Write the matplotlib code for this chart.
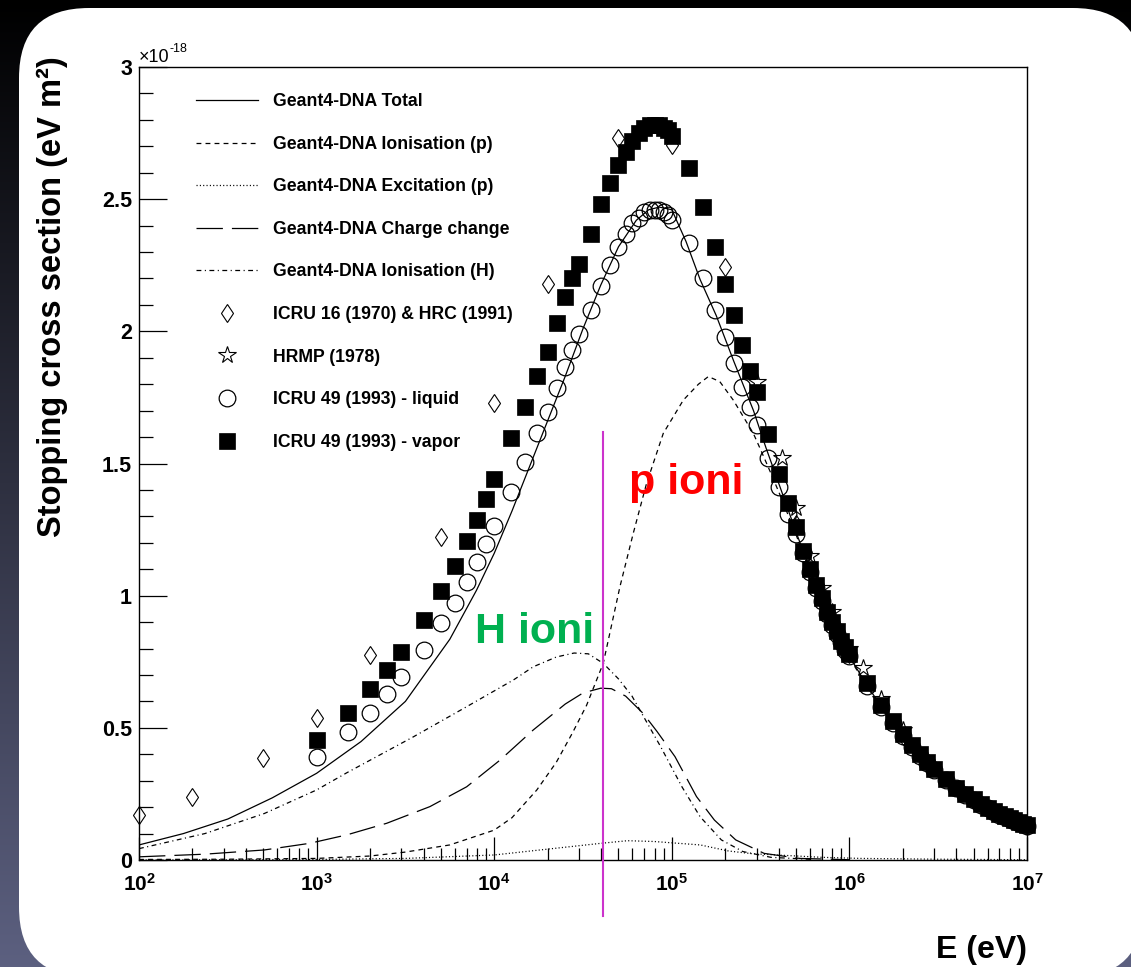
import numpy as np
import matplotlib
matplotlib.use('Agg')
import matplotlib.pyplot as plt
from matplotlib.patches import FancyBboxPatch
from matplotlib.ticker import MultipleLocator, FixedLocator, NullFormatter

plt.rcParams['font.family'] = ['Liberation Sans', 'DejaVu Sans']
plt.rcParams['mathtext.fontset'] = 'custom'
plt.rcParams['mathtext.rm'] = 'Liberation Sans:bold'
plt.rcParams['mathtext.bf'] = 'Liberation Sans:bold'
plt.rcParams['mathtext.it'] = 'Liberation Sans:bold'
plt.rcParams['lines.scale_dashes'] = False

# ---------------- data (y in units of 1e-18 eV m^2) ----------------
# Geant4-DNA model curves: log10(E/eV) and stopping cross section
total_logE = [2.00, 2.25, 2.50, 2.75, 3.00, 3.25, 3.50, 3.75, 3.90, 4.00, 4.10, 4.20, 4.30, 4.40,
              4.50, 4.60, 4.70, 4.80, 4.87, 4.93, 5.00, 5.08, 5.16, 5.25, 5.35, 5.46, 5.53, 5.61,
              5.70, 5.80, 5.90, 6.00, 6.10, 6.20, 6.30, 6.40, 6.50, 6.60, 6.70, 6.80, 6.90, 7.00]
total_y = [0.057, 0.100, 0.155, 0.235, 0.328, 0.448, 0.600, 0.835, 1.02, 1.16, 1.32, 1.49, 1.66, 1.83,
           2.01, 2.175, 2.32, 2.42, 2.46, 2.47, 2.46, 2.34, 2.195, 2.06, 1.885, 1.70, 1.56, 1.41,
           1.24, 1.06, 0.895, 0.77, 0.66, 0.56, 0.47, 0.395, 0.33, 0.27, 0.225, 0.19, 0.155, 0.128]

ionp_logE = [2.00, 2.50, 3.00, 3.30, 3.50, 3.75, 4.00, 4.10, 4.24, 4.35, 4.44, 4.52, 4.576, 4.614,
             4.708, 4.783, 4.858, 4.952, 5.065, 5.15, 5.206, 5.27, 5.346, 5.40, 5.459, 5.497, 5.56,
             5.61, 5.70, 5.80, 5.90, 6.00, 6.10, 6.20, 6.30, 6.40, 6.50, 6.60, 6.70, 6.80, 6.90, 7.00]
ionp_y = [0.002, 0.003, 0.006, 0.015, 0.030, 0.057, 0.113, 0.16, 0.265, 0.37, 0.48, 0.585, 0.68, 0.744,
          1.034, 1.236, 1.425, 1.614, 1.74, 1.80, 1.829, 1.81, 1.74, 1.68, 1.614, 1.557, 1.46,
          1.38, 1.23, 1.05, 0.885, 0.765, 0.655, 0.556, 0.467, 0.393, 0.328, 0.268, 0.224, 0.189, 0.154, 0.127]

excp_logE = [2.0, 3.0, 3.5, 4.0, 4.34, 4.60, 4.75, 4.90, 5.16, 5.32, 5.45, 5.62, 5.85, 6.06, 6.5, 7.0]
excp_y = [0.0, 0.002, 0.006, 0.019, 0.044, 0.063, 0.073, 0.070, 0.057, 0.034, 0.024, 0.018, 0.010,
          0.006, 0.003, 0.001]

cc_logE = [2.0, 2.37, 2.706, 2.96, 3.17, 3.395, 3.638, 3.845, 4.033, 4.22, 4.40, 4.50, 4.60, 4.66,
           4.74, 4.838, 4.917, 5.018, 5.139, 5.24, 5.36, 5.52, 5.72, 6.0]
cc_y = [0.012, 0.022, 0.038, 0.063, 0.095, 0.139, 0.202, 0.277, 0.378, 0.492, 0.59, 0.632, 0.65, 0.648,
        0.62, 0.555, 0.486, 0.391, 0.24, 0.151, 0.076, 0.025, 0.006, 0.001]

ionh_logE = [2.0, 2.371, 2.706, 3.0, 3.17, 3.545, 3.845, 4.108, 4.22, 4.35, 4.45, 4.53, 4.614, 4.70,
             4.776, 4.86, 4.937, 5.057, 5.159, 5.279, 5.40, 5.559, 5.8]
ionh_y = [0.043, 0.10, 0.176, 0.265, 0.33, 0.466, 0.58, 0.681, 0.731, 0.768, 0.783, 0.78, 0.744, 0.685,
          0.62, 0.52, 0.429, 0.277, 0.164, 0.076, 0.032, 0.01, 0.002]

# Reference data (E in keV)
icru16_E = [0.1, 0.2, 0.5, 1, 2, 5, 10, 20, 50, 100, 200, 500, 1000, 2000, 5000, 10000]
icru16_y = [0.17, 0.24, 0.385, 0.536, 0.776, 1.223, 1.73, 2.18, 2.73, 2.705, 2.245, 1.27, 0.78,
            0.47, 0.225, 0.13]

hrmp_E = [300, 415, 500, 600, 700, 800, 1000, 1200, 1500, 2000]
hrmp_y = [1.81, 1.52, 1.33, 1.15, 1.03, 0.94, 0.80, 0.726, 0.61, 0.49]

icru49_E = [1, 1.5, 2, 2.5, 3, 4, 5, 6, 7, 8, 9, 10, 12.5, 15, 17.5, 20, 22.5, 25, 27.5, 30, 35, 40,
            45, 50, 55, 60, 65, 70, 75, 80, 85, 90, 95, 100, 125, 150, 175, 200, 225, 250, 275, 300,
            350, 400, 450, 500, 550, 600, 650, 700, 750, 800, 850, 900, 950, 1000, 1250, 1500, 1750,
            2000, 2250, 2500, 2750, 3000, 3500, 4000, 4500, 5000, 5500, 6000, 6500, 7000, 7500, 8000,
            8500, 9000, 9500, 10000]
liquid_y = [0.391, 0.486, 0.557, 0.628, 0.691, 0.795, 0.895, 0.974, 1.053, 1.128, 1.196, 1.264, 1.394,
            1.507, 1.614, 1.696, 1.784, 1.866, 1.93, 1.99, 2.08, 2.17, 2.25, 2.32, 2.37, 2.41, 2.43,
            2.45, 2.46, 2.46, 2.46, 2.45, 2.44, 2.42, 2.333, 2.20, 2.08, 1.98, 1.88, 1.79, 1.715, 1.645,
            1.52, 1.41, 1.31, 1.235, 1.16, 1.09, 1.03, 0.98, 0.93, 0.89, 0.855, 0.825, 0.795, 0.77,
            0.66, 0.578, 0.518, 0.468, 0.428, 0.395, 0.366, 0.341, 0.302, 0.271, 0.246, 0.226, 0.209,
            0.195, 0.183, 0.172, 0.163, 0.155, 0.148, 0.141, 0.135, 0.129]
vapor_y = [0.454, 0.555, 0.646, 0.719, 0.788, 0.908, 1.019, 1.112, 1.208, 1.286, 1.365, 1.44, 1.595,
           1.715, 1.83, 1.92, 2.03, 2.13, 2.20, 2.255, 2.37, 2.48, 2.56, 2.63, 2.68, 2.72, 2.75,
           2.77, 2.78, 2.78, 2.78, 2.77, 2.76, 2.74, 2.617, 2.47, 2.32, 2.18, 2.06, 1.95, 1.85, 1.77,
           1.61, 1.46, 1.35, 1.26, 1.17, 1.10, 1.04, 0.99, 0.94, 0.90, 0.865, 0.83, 0.805, 0.78,
           0.67, 0.585, 0.525, 0.475, 0.435, 0.40, 0.37, 0.345, 0.305, 0.274, 0.249, 0.229, 0.212,
           0.198, 0.186, 0.175, 0.166, 0.157, 0.15, 0.143, 0.137, 0.131]

legend_labels = ['Geant4-DNA Total', 'Geant4-DNA Ionisation (p)', 'Geant4-DNA Excitation (p)',
                 'Geant4-DNA Charge change', 'Geant4-DNA Ionisation (H)',
                 'ICRU 16 (1970) & HRC (1991)', 'HRMP (1978)', 'ICRU 49 (1993) - liquid',
                 'ICRU 49 (1993) - vapor']

y_ticks = [0, 0.5, 1, 1.5, 2, 2.5, 3]
y_tick_labels = ['0', '0.5', '1', '1.5', '2', '2.5', '3']
x_ticks = [1e2, 1e3, 1e4, 1e5, 1e6, 1e7]
x_tick_labels = [r'$\mathbf{10^{2}}$', r'$\mathbf{10^{3}}$', r'$\mathbf{10^{4}}$',
                 r'$\mathbf{10^{5}}$', r'$\mathbf{10^{6}}$', r'$\mathbf{10^{7}}$']

# ---------------- figure ----------------
W, H = 1131, 967
DPI = 100
fig = plt.figure(figsize=(W / DPI, H / DPI), dpi=DPI)
fig.patch.set_facecolor('black')

bg = fig.add_axes([0, 0, 1, 1], zorder=0)
bg.set_xlim(0, W)
bg.set_ylim(H, 0)
bg.axis('off')
t = np.linspace(0, 1, 256)[:, None]
top = np.array([0.0, 0.0, 0.0])
bot = np.array([92, 96, 128]) / 255.0
img = (top[None, None, :] * (1 - t[..., None]) + bot[None, None, :] * t[..., None])
bg.imshow(img, extent=[0, W, H, 0], aspect='auto', interpolation='bilinear')
bg.add_patch(FancyBboxPatch((19, 8), W + 12 - 19, H + 10 - 8,
                            boxstyle='round,pad=0,rounding_size=70',
                            fc='white', ec='none'))

ax = fig.add_axes([139 / W, (H - 860) / H, (1027 - 139) / W, (860 - 67) / H], zorder=2)
ax.set_facecolor('white')
ax.set_xscale('log')

l_tot, = ax.plot(10 ** np.array(total_logE), total_y, color='black', lw=0.9, ls='-')
l_ionp, = ax.plot(10 ** np.array(ionp_logE), ionp_y, color='black', lw=0.9, ls=(0, (3.5, 3)))
l_exc, = ax.plot(10 ** np.array(excp_logE), excp_y, color='black', lw=0.9, ls=(0, (0.8, 1.6)))
l_cc, = ax.plot(10 ** np.array(cc_logE), cc_y, color='black', lw=0.9, ls=(0, (19, 6.5)))
l_ionh, = ax.plot(10 ** np.array(ionh_logE), ionh_y, color='black', lw=0.9,
                  ls=(0, (3.5, 2.5, 0.8, 2.5)))

keV = 1e3
m16, = ax.plot(np.array(icru16_E) * keV, icru16_y, ls='none', marker='d', ms=9.5, mfc='none',
               mec='black', mew=0.8, clip_on=False)
mh, = ax.plot(np.array(hrmp_E) * keV, hrmp_y, ls='none', marker='*', ms=13, mfc='none',
              mec='black', mew=0.8, clip_on=False)
ml, = ax.plot(np.array(icru49_E) * keV, liquid_y, ls='none', marker='o', ms=12, mfc='none',
              mec='black', mew=0.9, clip_on=False)
mv, = ax.plot(np.array(icru49_E) * keV, vapor_y, ls='none', marker='s', ms=11, mfc='black',
              mec='black', mew=0.5, clip_on=False)

ax.set_xlim(1e2, 1e7)
ax.set_ylim(0, 3)

# ticks
ax.set_yticks(y_ticks, y_tick_labels, fontsize=15.5, fontweight='bold')
ax.yaxis.set_minor_locator(MultipleLocator(0.1))
ax.set_xticks(x_ticks, x_tick_labels, fontsize=15)
ax.xaxis.set_minor_locator(FixedLocator([m * 10 ** d for d in range(2, 7) for m in range(2, 10)]))
ax.xaxis.set_minor_formatter(NullFormatter())
ax.tick_params(axis='y', which='major', direction='in', length=20, width=0.9, pad=5,
               left=True, right=False)
ax.tick_params(axis='y', which='minor', direction='in', length=10, width=0.9,
               left=True, right=False)
ax.tick_params(axis='x', which='major', direction='in', length=16.5, width=0.9, pad=9,
               bottom=True, top=False)
ax.tick_params(axis='x', which='minor', direction='in', length=8.6, width=0.9,
               bottom=True, top=False)
for s in ax.spines.values():
    s.set_linewidth(1.0)

# legend
leg = ax.legend([l_tot, l_ionp, l_exc, l_cc, l_ionh, m16, mh, ml, mv], legend_labels,
                loc='upper left', bbox_to_anchor=(0.0638, 0.967), frameon=False,
                prop={'family': 'Liberation Sans', 'weight': 'bold', 'size': 12.7},
                handlelength=3.55, handletextpad=0.82, labelspacing=1.45,
                borderpad=0, borderaxespad=0, numpoints=1)

# annotations
ax.plot([41000, 41000], [1.62, -0.21], color='#cc33cc', lw=1.5, clip_on=False, zorder=6)
ax.text(7800, 0.822, 'H ioni', color='#00b050', fontsize=31, fontweight='bold',
        ha='left', va='baseline', zorder=7)
ax.text(57400, 1.385, 'p ioni', color='#ff0000', fontsize=31, fontweight='bold',
        ha='left', va='baseline', zorder=7)

# axis titles and exponent
fig.text(52 / W, 1 - 56 / H, 'Stopping cross section (eV m²)', rotation=90, ha='center',
         va='top', fontsize=23.5, fontweight='bold', zorder=5)
fig.text(1027 / W, 1 - 958 / H, 'E (eV)', ha='right', va='baseline', fontsize=23,
         fontweight='bold', zorder=5)
fig.text(139 / W, 1 - 62 / H, '×10', ha='left', va='baseline', fontsize=13, zorder=5)
fig.text(170 / W, 1 - 52 / H, '-18', ha='left', va='baseline', fontsize=9, zorder=5)

fig.savefig('out.png', dpi=DPI, facecolor=fig.get_facecolor())
